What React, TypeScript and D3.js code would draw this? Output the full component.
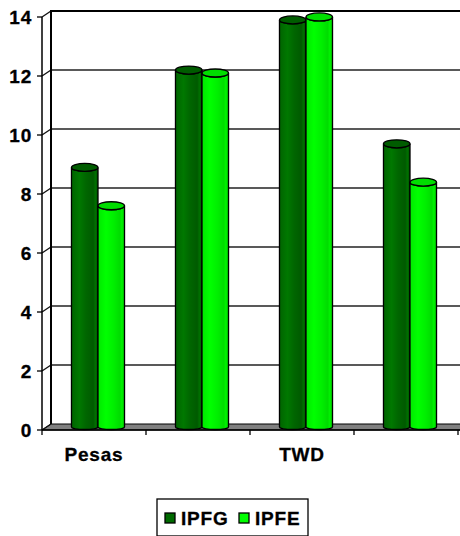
import React from "react";
import * as d3 from "d3";

const categories = ["Pesas", "", "TWD", ""];
const seriesNames = ["IPFG", "IPFE"];
const ipfg = [8.8, 12.1, 13.8, 9.6];
const ipfe = [7.5, 12.0, 13.9, 8.3];
const yTicks = [0, 2, 4, 6, 8, 10, 12, 14];
const seriesColors = ["#006a00", "#00ff00"];

const W = 460;
const H = 536;
const FONT = "'Liberation Sans', Arial, sans-serif";

// 3D projection offsets: back wall and bar mid-depth
const DX = 9;
const DY = -6;
const BDX = 4;
const BDY = -3;

const labelStyle = {
  fontSize: 19,
  fontWeight: "bold" as const,
  letterSpacing: "0.8px",
  stroke: "#000",
  strokeWidth: 0.3,
};

export default function App() {
  const x0 = d3
    .scaleBand<string>()
    .domain(categories.map((_, i) => String(i)))
    .range([42, 458])
    .paddingInner(0.49)
    .paddingOuter(0.245);
  const x1 = d3
    .scaleBand<string>()
    .domain(seriesNames)
    .range([0, x0.bandwidth()])
    .padding(0);
  const y = d3.scaleLinear().domain([0, 14]).range([430, 17]);

  const step = x0.step();
  const left = 42;
  const right = 458;
  const values = [ipfg, ipfe];

  const rx = x1.bandwidth() / 2;
  const ryTop = 4;
  const ryBot = 2.5;

  return (
    <svg
      width={W}
      height={H}
      style={{ position: "absolute", left: 0, top: 0 }}
      fontFamily={FONT}
    >
      <defs>
        <linearGradient id="g0" x1="0" x2="1" y1="0" y2="0">
          <stop offset="0" stopColor="#006400" />
          <stop offset="0.3" stopColor="#007800" />
          <stop offset="0.55" stopColor="#006600" />
          <stop offset="0.82" stopColor="#005a00" />
          <stop offset="0.9" stopColor="#007000" />
          <stop offset="1" stopColor="#005000" />
        </linearGradient>
        <linearGradient id="g1" x1="0" x2="1" y1="0" y2="0">
          <stop offset="0" stopColor="#00e800" />
          <stop offset="0.3" stopColor="#00ff00" />
          <stop offset="0.6" stopColor="#00ee00" />
          <stop offset="0.82" stopColor="#00dc00" />
          <stop offset="0.9" stopColor="#00f400" />
          <stop offset="1" stopColor="#00cc00" />
        </linearGradient>
      </defs>
      <rect width={W} height={H} fill="#fff" />

      {/* back wall */}
      <rect
        x={left + DX}
        y={y(14) + DY}
        width={W}
        height={y(0) - y(14)}
        fill="#fff"
      />
      {/* floor */}
      <polygon
        points={`${left},${y(0)} ${left + DX},${y(0) + DY} ${right + DX + 10},${y(0) + DY} ${right + 10},${y(0)}`}
        fill="#808080"
        stroke="#000"
        strokeWidth={1}
      />
      {/* gridlines on side and back walls */}
      {yTicks.map((t) => (
        <g key={t}>
          {t > 0 && (
            <line
              x1={left + DX}
              x2={W}
              y1={y(t) + DY}
              y2={y(t) + DY}
              stroke={t === 14 ? "#000" : "#222"}
              strokeWidth={t === 14 ? 2 : 1.4}
            />
          )}
          <line
            x1={left}
            y1={y(t)}
            x2={left + DX}
            y2={y(t) + DY}
            stroke="#111"
            strokeWidth={1.3}
          />
        </g>
      ))}
      {/* back wall left edge */}
      <line
        x1={left + DX}
        x2={left + DX}
        y1={y(14) + DY - 1}
        y2={y(0) + DY}
        stroke="#000"
        strokeWidth={2}
      />

      {/* cylinders */}
      {categories.map((_, i) =>
        seriesNames.map((s, j) => {
          const v = values[j][i];
          const bx = (x0(String(i)) as number) + (x1(s) as number) + BDX;
          const top = y(v) + BDY;
          const bot = y(0) + BDY;
          const r = bx + x1.bandwidth();
          const cx = bx + rx;
          const body = `M${bx},${top} L${bx},${bot} A${rx},${ryBot} 0 0 0 ${r},${bot} L${r},${top} A${rx},${ryTop} 0 0 1 ${bx},${top} Z`;
          return (
            <g key={`${i}-${j}`}>
              <path d={body} fill={`url(#g${j})`} stroke="#000" strokeWidth={1.3} />
              <ellipse
                cx={cx}
                cy={top}
                rx={rx}
                ry={ryTop}
                fill={j === 0 ? "#005c00" : "#00dd00"}
                stroke="#000"
                strokeWidth={1.3}
              />
            </g>
          );
        })
      )}

      {/* y axis */}
      <line x1={left} x2={left} y1={y(14)} y2={y(0)} stroke="#000" strokeWidth={1.5} />
      {yTicks.map((t) => (
        <g key={`yt${t}`}>
          <line x1={left - 5} x2={left} y1={y(t)} y2={y(t)} stroke="#000" strokeWidth={1.3} />
          <text x={32} y={y(t) + 7} textAnchor="end" fill="#000" {...labelStyle}>
            {t}
          </text>
        </g>
      ))}

      {/* x axis */}
      <line x1={left} x2={W} y1={y(0)} y2={y(0)} stroke="#000" strokeWidth={1.5} />
      {d3.range(categories.length + 1).map((k) => (
        <line
          key={`xt${k}`}
          x1={left + k * step}
          x2={left + k * step}
          y1={y(0)}
          y2={y(0) + 5}
          stroke="#000"
          strokeWidth={1.3}
        />
      ))}
      {categories.map((c, i) => (
        <text
          key={`xl${i}`}
          x={(x0(String(i)) as number) + x0.bandwidth() / 2}
          y={461}
          textAnchor="middle"
          fill="#000"
          {...labelStyle}
        >
          {c}
        </text>
      ))}

      {/* legend */}
      <rect x={157} y={499} width={151} height={37} fill="#fff" stroke="#000" strokeWidth={1.3} />
      {seriesNames.map((s, j) => {
        const lx = j === 0 ? 165 : 239;
        return (
          <g key={`lg${s}`}>
            <rect x={lx} y={513} width={10} height={10} fill={seriesColors[j]} stroke="#000" strokeWidth={1.3} />
            <text x={lx + 16} y={525} fill="#000" {...labelStyle}>
              {s}
            </text>
          </g>
        );
      })}
    </svg>
  );
}
